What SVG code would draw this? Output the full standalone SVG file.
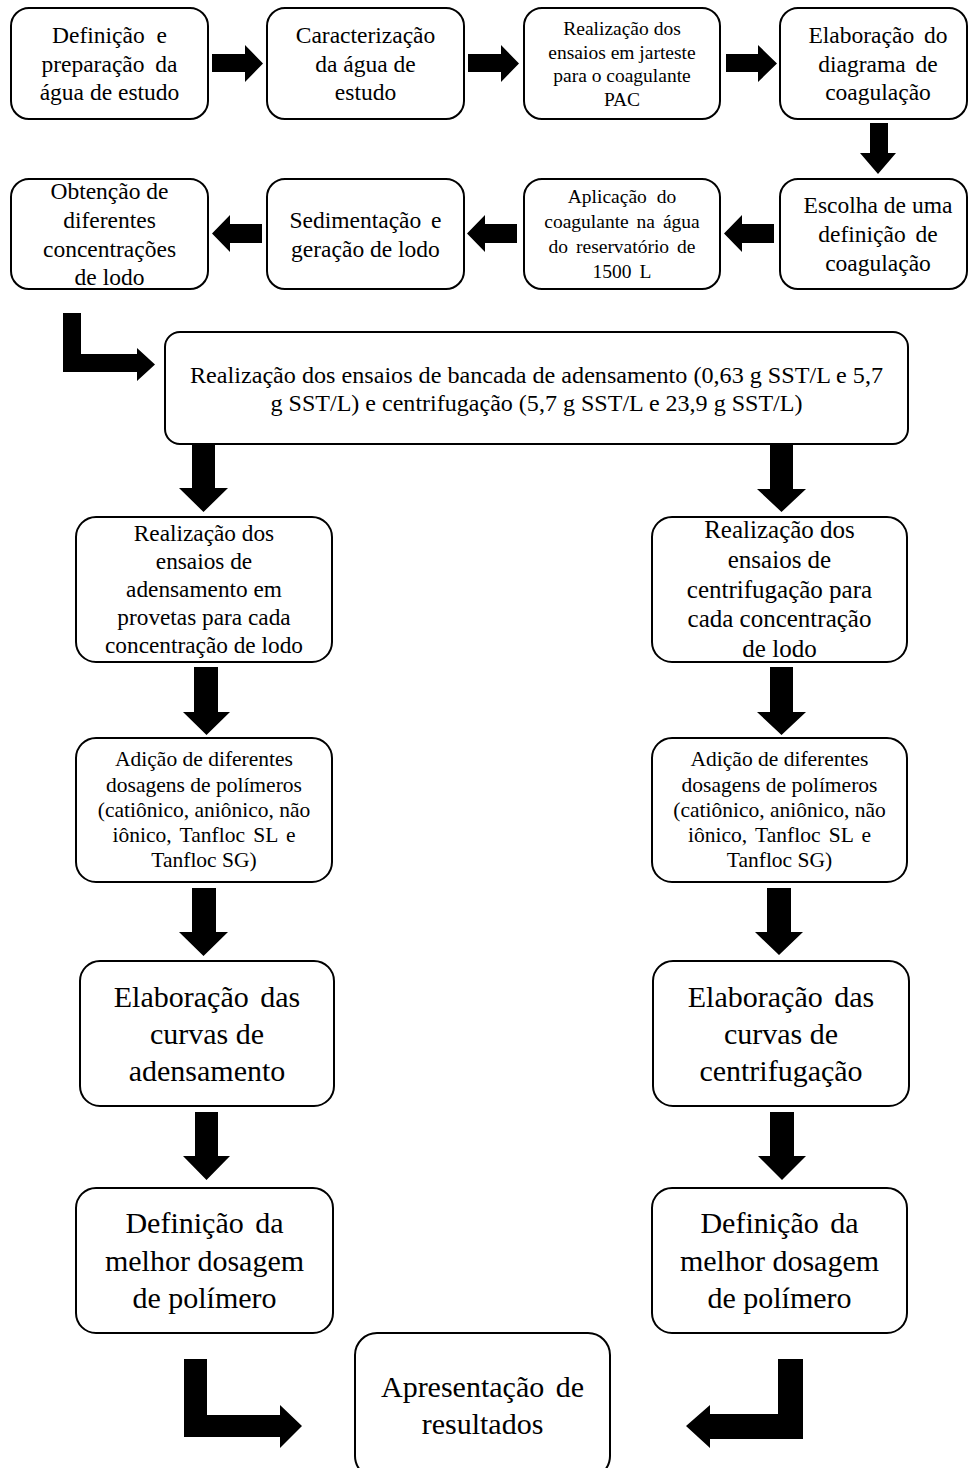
<svg xmlns="http://www.w3.org/2000/svg" width="968" height="1468" viewBox="0 0 968 1468">
  <style>
    .box { fill: #fff; stroke: #000; stroke-width: 2; }
    .arrow { fill: #000; stroke: none; }
  </style>
  <rect width="968" height="1468" fill="#fff"/>

  <!-- connectors: block arrows -->
  <g id="connectors">
    <polygon class="arrow" points="212,54 245,54 245,45 263,63.5 245,82 245,72 212,72"/>
    <polygon class="arrow" points="468,54 501,54 501,45 519,63.5 501,82 501,72 468,72"/>
    <polygon class="arrow" points="726,54 758,54 758,45 777,63.5 758,82 758,72 726,72"/>
    <polygon class="arrow" points="870,123 888,123 888,153 896,153 878,174 860,153 870,153"/>
    <polygon class="arrow" points="774,224 742,224 742,215 724,233.5 742,252 742,243 774,243"/>
    <polygon class="arrow" points="517,224 485,224 485,215 467,233.5 485,252 485,243 517,243"/>
    <polygon class="arrow" points="262,224 230,224 230,215 212,233.5 230,252 230,243 262,243"/>
    <polygon class="arrow" points="63,313 81,313 81,354 137,354 137,348 155,364.5 137,381 137,372 63,372"/>
    <polygon class="arrow" points="192,445 215,445 215,488 228,488 203.5,512 179,488 192,488"/>
    <polygon class="arrow" points="770,445 793,445 793,489 806,489 781.5,512 757,489 770,489"/>
    <polygon class="arrow" points="194,667 218,667 218,712 230,712 206.5,735 183,712 194,712"/>
    <polygon class="arrow" points="770,667 793,667 793,712 806,712 781.5,735 757,712 770,712"/>
    <polygon class="arrow" points="192,888 216,888 216,932 228,932 203.5,956 179,932 192,932"/>
    <polygon class="arrow" points="767,888 791,888 791,932 803,932 779,955 755,932 767,932"/>
    <polygon class="arrow" points="195,1112 218,1112 218,1156 230,1156 206.5,1180 183,1156 195,1156"/>
    <polygon class="arrow" points="770,1112 794,1112 794,1156 806,1156 782,1180 758,1156 770,1156"/>
    <polygon class="arrow" points="184,1359 207,1359 207,1415 280,1415 280,1405 302,1426 280,1448 280,1437 184,1437"/>
    <polygon class="arrow" points="803,1359 778,1359 778,1414 710,1414 710,1405 686,1426 710,1448 710,1439 803,1439"/>
  </g>

  <g id="nodes" fill="#000" text-anchor="middle">
    <!-- first row -->
    <g id="n-definicao">
      <rect class="box" x="11" y="8" width="197" height="111" rx="18"/>
      <text font-family="Liberation Serif" font-size="23.5" x="109.5" y="43" word-spacing="6">Definição e</text>
      <text font-family="Liberation Serif" font-size="23.5" x="109.5" y="72" word-spacing="5">preparação da</text>
      <text font-family="Liberation Serif" font-size="23.5" x="109.5" y="100">água de estudo</text>
    </g>
    <g id="n-caracterizacao">
      <rect class="box" x="267" y="8" width="197" height="111" rx="18"/>
      <text font-family="Liberation Serif" font-size="23.5" x="365.5" y="43">Caracterização</text>
      <text font-family="Liberation Serif" font-size="23.5" x="365.5" y="72">da água de</text>
      <text font-family="Liberation Serif" font-size="23.5" x="365.5" y="100">estudo</text>
    </g>
    <g id="n-jarteste">
      <rect class="box" x="524" y="8" width="196" height="111" rx="18"/>
      <text font-family="Liberation Serif" font-size="19.5" x="622" y="35">Realização dos</text>
      <text font-family="Liberation Serif" font-size="19.5" x="622" y="58.5">ensaios em jarteste</text>
      <text font-family="Liberation Serif" font-size="19.5" x="622" y="82">para o coagulante</text>
      <text font-family="Liberation Serif" font-size="19.5" x="622" y="105.5">PAC</text>
    </g>
    <g id="n-diagrama">
      <rect class="box" x="780" y="8" width="187" height="111" rx="18"/>
      <text font-family="Liberation Serif" font-size="23.5" x="878" y="43" word-spacing="4">Elaboração do</text>
      <text font-family="Liberation Serif" font-size="23.5" x="878" y="72" word-spacing="4">diagrama de</text>
      <text font-family="Liberation Serif" font-size="23.5" x="878" y="100">coagulação</text>
    </g>

    <!-- second row -->
    <g id="n-escolha">
      <rect class="box" x="780" y="179" width="187" height="110" rx="18"/>
      <text font-family="Liberation Serif" font-size="23.5" x="878" y="213">Escolha de uma</text>
      <text font-family="Liberation Serif" font-size="23.5" x="878" y="242" word-spacing="4">definição de</text>
      <text font-family="Liberation Serif" font-size="23.5" x="878" y="271">coagulação</text>
    </g>
    <g id="n-aplicacao">
      <rect class="box" x="524" y="179" width="196" height="110" rx="18"/>
      <text font-family="Liberation Serif" font-size="19.5" x="622" y="203" word-spacing="5">Aplicação do</text>
      <text font-family="Liberation Serif" font-size="19.5" x="622" y="228" word-spacing="3">coagulante na água</text>
      <text font-family="Liberation Serif" font-size="19.5" x="622" y="252.5" word-spacing="3">do reservatório de</text>
      <text font-family="Liberation Serif" font-size="19.5" x="622" y="278" word-spacing="3">1500 L</text>
    </g>
    <g id="n-sedimentacao">
      <rect class="box" x="267" y="179" width="197" height="110" rx="18"/>
      <text font-family="Liberation Serif" font-size="23.5" x="365.5" y="228" word-spacing="4">Sedimentação e</text>
      <text font-family="Liberation Serif" font-size="23.5" x="365.5" y="257">geração de lodo</text>
    </g>
    <g id="n-obtencao">
      <rect class="box" x="11" y="179" width="197" height="110" rx="18"/>
      <text font-family="Liberation Serif" font-size="23.5" x="109.5" y="199">Obtenção de</text>
      <text font-family="Liberation Serif" font-size="23.5" x="109.5" y="228">diferentes</text>
      <text font-family="Liberation Serif" font-size="23.5" x="109.5" y="257">concentrações</text>
      <text font-family="Liberation Serif" font-size="23.5" x="109.5" y="285">de lodo</text>
    </g>

    <!-- bench tests -->
    <g id="n-bancada">
      <rect class="box" x="165" y="332" width="743" height="112" rx="15"/>
      <text font-family="Liberation Serif" font-size="24" x="536.5" y="383" textLength="693" lengthAdjust="spacingAndGlyphs">Realização dos ensaios de bancada de adensamento (0,63 g SST/L e 5,7</text>
      <text font-family="Liberation Serif" font-size="24" x="536.5" y="411" textLength="532" lengthAdjust="spacingAndGlyphs">g SST/L) e centrifugação (5,7 g SST/L e 23,9 g SST/L)</text>
    </g>

    <!-- thickening branch -->
    <g id="n-ens-adensamento">
      <rect class="box" x="76" y="517" width="256" height="145" rx="20"/>
      <text font-family="Liberation Serif" font-size="23.3" x="204" y="541">Realização dos</text>
      <text font-family="Liberation Serif" font-size="23.3" x="204" y="569">ensaios de</text>
      <text font-family="Liberation Serif" font-size="23.3" x="204" y="597">adensamento em</text>
      <text font-family="Liberation Serif" font-size="23.3" x="204" y="625">provetas para cada</text>
      <text font-family="Liberation Serif" font-size="23.3" x="204" y="653">concentração de lodo</text>
    </g>
    <g id="n-polimeros-a">
      <rect class="box" x="76" y="738" width="256" height="144" rx="20"/>
      <text font-family="Liberation Serif" font-size="21.5" x="204" y="766">Adição de diferentes</text>
      <text font-family="Liberation Serif" font-size="21.5" x="204" y="792">dosagens de polímeros</text>
      <text font-family="Liberation Serif" font-size="21.5" x="204" y="817">(catiônico, aniônico, não</text>
      <text font-family="Liberation Serif" font-size="21.5" x="204" y="842" word-spacing="3">iônico, Tanfloc SL e</text>
      <text font-family="Liberation Serif" font-size="21.5" x="204" y="867">Tanfloc SG)</text>
    </g>
    <g id="n-curvas-a">
      <rect class="box" x="80" y="961" width="254" height="145" rx="20"/>
      <text font-family="Liberation Serif" font-size="30" x="207" y="1007" word-spacing="4">Elaboração das</text>
      <text font-family="Liberation Serif" font-size="30" x="207" y="1044">curvas de</text>
      <text font-family="Liberation Serif" font-size="30" x="207" y="1081">adensamento</text>
    </g>
    <g id="n-dosagem-a">
      <rect class="box" x="76" y="1188" width="257" height="145" rx="20"/>
      <text font-family="Liberation Serif" font-size="30" x="204.5" y="1233" word-spacing="4">Definição da</text>
      <text font-family="Liberation Serif" font-size="30" x="204.5" y="1271">melhor dosagem</text>
      <text font-family="Liberation Serif" font-size="30" x="204.5" y="1308">de polímero</text>
    </g>

    <!-- centrifugation branch -->
    <g id="n-ens-centrifugacao">
      <rect class="box" x="652" y="517" width="255" height="145" rx="20"/>
      <text font-family="Liberation Serif" font-size="25" x="779.5" y="538">Realização dos</text>
      <text font-family="Liberation Serif" font-size="25" x="779.5" y="568">ensaios de</text>
      <text font-family="Liberation Serif" font-size="25" x="779.5" y="598">centrifugação para</text>
      <text font-family="Liberation Serif" font-size="25" x="779.5" y="627">cada concentração</text>
      <text font-family="Liberation Serif" font-size="25" x="779.5" y="657">de lodo</text>
    </g>
    <g id="n-polimeros-c">
      <rect class="box" x="652" y="738" width="255" height="144" rx="20"/>
      <text font-family="Liberation Serif" font-size="21.5" x="779.5" y="766">Adição de diferentes</text>
      <text font-family="Liberation Serif" font-size="21.5" x="779.5" y="792">dosagens de polímeros</text>
      <text font-family="Liberation Serif" font-size="21.5" x="779.5" y="817">(catiônico, aniônico, não</text>
      <text font-family="Liberation Serif" font-size="21.5" x="779.5" y="842" word-spacing="3">iônico, Tanfloc SL e</text>
      <text font-family="Liberation Serif" font-size="21.5" x="779.5" y="867">Tanfloc SG)</text>
    </g>
    <g id="n-curvas-c">
      <rect class="box" x="653" y="961" width="256" height="145" rx="20"/>
      <text font-family="Liberation Serif" font-size="30" x="781" y="1007" word-spacing="4">Elaboração das</text>
      <text font-family="Liberation Serif" font-size="30" x="781" y="1044">curvas de</text>
      <text font-family="Liberation Serif" font-size="30" x="781" y="1081">centrifugação</text>
    </g>
    <g id="n-dosagem-c">
      <rect class="box" x="652" y="1188" width="255" height="145" rx="20"/>
      <text font-family="Liberation Serif" font-size="30" x="779.5" y="1233" word-spacing="4">Definição da</text>
      <text font-family="Liberation Serif" font-size="30" x="779.5" y="1271">melhor dosagem</text>
      <text font-family="Liberation Serif" font-size="30" x="779.5" y="1308">de polímero</text>
    </g>

    <!-- results -->
    <g id="n-resultados">
      <rect class="box" x="355" y="1333" width="255" height="145" rx="22"/>
      <text font-family="Liberation Serif" font-size="30" x="482.5" y="1397" word-spacing="4">Apresentação de</text>
      <text font-family="Liberation Serif" font-size="30" x="482.5" y="1434">resultados</text>
    </g>
  </g>
</svg>
